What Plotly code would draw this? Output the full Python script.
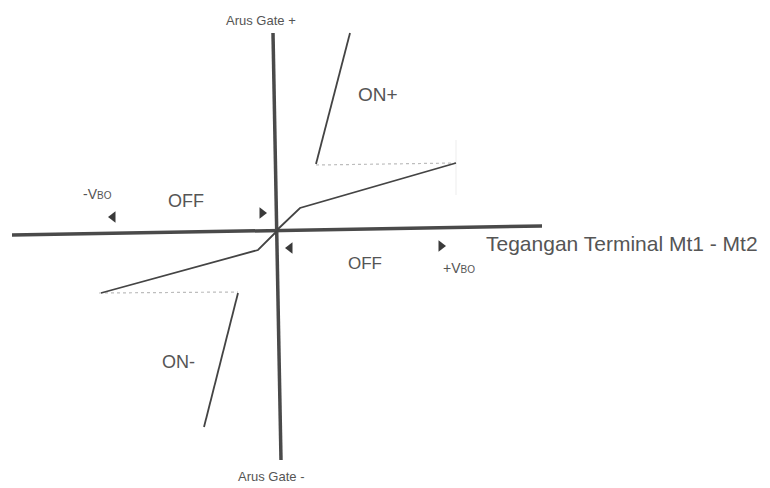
import plotly.graph_objects as go

# Diagram coordinates (image space: x right, y down)
axis_h_x = [12, 542]
axis_h_y = [235, 226]
axis_v_x = [273, 281]
axis_v_y = [33, 460]

upper_curve_x = [277, 300, 456]
upper_curve_y = [230, 208, 163]
on_plus_x = [316, 350]
on_plus_y = [164, 33]
hold_plus_x = [316, 456]
hold_plus_y = [165, 163]

lower_curve_x = [277, 258, 101]
lower_curve_y = [231, 250, 293]
on_minus_x = [238, 204]
on_minus_y = [293, 427]
hold_minus_x = [99, 238]
hold_minus_y = [293, 292]

faint_x = [456, 456]
faint_y = [140, 195]

arrow_left_x = [113, 290]
arrow_left_y = [217, 248]
arrow_right_x = [262, 441]
arrow_right_y = [213, 246]

labels = ["Arus Gate +", "Arus Gate -", "ON+", "ON-", "OFF", "OFF",
          "-V<span style='font-size:10px'>BO</span>",
          "+V<span style='font-size:10px'>BO</span>",
          "Tegangan Terminal Mt1 - Mt2"]
label_x = [261, 271, 378, 178, 186, 365, 97, 459, 484]
label_y = [20, 476, 94, 362, 201, 263, 194, 268, 243]
label_size = [13, 13, 19, 18, 18, 17, 14, 14, 21]
label_anchor = ["center", "center", "center", "center", "center", "center",
                "center", "center", "left"]

line_col = "#444444"
axis_col = "#4a4a4a"
text_col = "#555555"

fig = go.Figure()

def seg(x, y, color, width, dash="solid"):
    fig.add_trace(go.Scatter(x=x, y=y, mode="lines",
                             line=dict(color=color, width=width, dash=dash),
                             hoverinfo="skip", showlegend=False))

seg(faint_x, faint_y, "#ededed", 1)
seg(hold_plus_x, hold_plus_y, "#bdbdbd", 1.2, "dot")
seg(hold_minus_x, hold_minus_y, "#bdbdbd", 1.2, "dot")
seg(axis_h_x, axis_h_y, axis_col, 3.5)
seg(axis_v_x, axis_v_y, axis_col, 3.5)
seg(upper_curve_x, upper_curve_y, line_col, 1.8)
seg(lower_curve_x, lower_curve_y, line_col, 1.8)
seg(on_plus_x, on_plus_y, line_col, 1.8)
seg(on_minus_x, on_minus_y, line_col, 1.8)

fig.add_trace(go.Scatter(x=arrow_left_x, y=arrow_left_y, mode="markers",
                         marker=dict(symbol="triangle-left", size=10, color="#3a3a3a"),
                         hoverinfo="skip", showlegend=False))
fig.add_trace(go.Scatter(x=arrow_right_x, y=arrow_right_y, mode="markers",
                         marker=dict(symbol="triangle-right", size=10, color="#3a3a3a"),
                         hoverinfo="skip", showlegend=False))

for t, x, y, s, a in zip(labels, label_x, label_y, label_size, label_anchor):
    fig.add_annotation(x=x, y=y, text=t, showarrow=False, xanchor=a, yanchor="middle",
                       font=dict(family="Liberation Sans, Arial, sans-serif", size=s, color=text_col))

fig.update_layout(
    width=770, height=488,
    margin=dict(l=0, r=0, t=0, b=0),
    paper_bgcolor="white", plot_bgcolor="white",
    xaxis=dict(range=[0, 770], visible=False, fixedrange=True),
    yaxis=dict(range=[488, 0], visible=False, fixedrange=True),
)

fig.write_html("out.html", config={"displayModeBar": False},
               post_script="document.body.style.margin='0';document.body.style.overflow='hidden';")
